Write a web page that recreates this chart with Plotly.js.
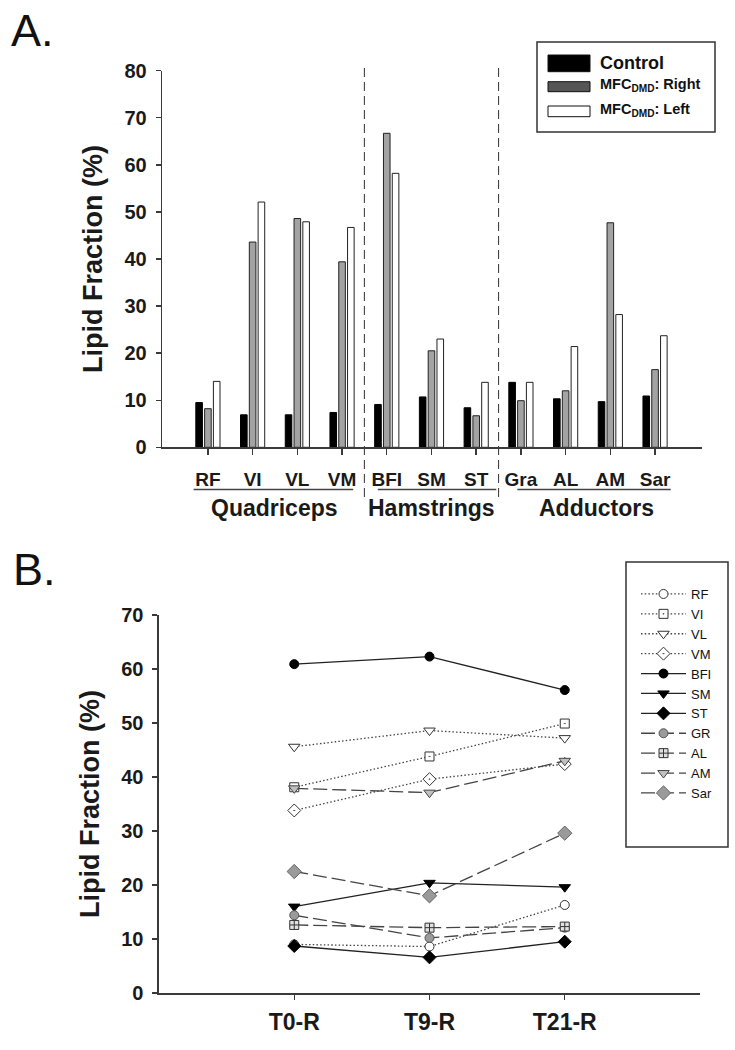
<!DOCTYPE html>
<html>
<head>
<meta charset="utf-8">
<script src="https://cdn.plot.ly/plotly-3.0.1.min.js"></script>
<style>
  html, body { margin: 0; padding: 0; background: #ffffff; }
  #chart { width: 735px; height: 1050px; }
</style>
</head>
<body>
<div id="chart"></div>
<script>
// ---------- Panel A data ----------
var categories = ['RF', 'VI', 'VL', 'VM', 'BFI', 'SM', 'ST', 'Gra', 'AL', 'AM', 'Sar'];
var controlValues = [9.5, 6.9, 6.9, 7.4, 9.1, 10.7, 8.4, 13.8, 10.3, 9.7, 10.9];
var rightValues = [8.2, 43.6, 48.6, 39.4, 66.7, 20.5, 6.7, 9.9, 12.0, 47.7, 16.5];
var leftValues = [14.0, 52.1, 47.9, 46.7, 58.2, 23.0, 13.8, 13.8, 21.4, 28.2, 23.7];
var seriesNames = ['Control', 'MFC<sub>DMD</sub>: Right', 'MFC<sub>DMD</sub>: Left'];
var groupNames = ['Quadriceps', 'Hamstrings', 'Adductors'];
var groupFirst = ['RF', 'BFI', 'Gra'];
var groupLast = ['VM', 'ST', 'Sar'];
var yTicksA = [0, 10, 20, 30, 40, 50, 60, 70, 80];

// ---------- Panel B data ----------
var timepoints = ['T0-R', 'T9-R', 'T21-R'];
var muscles = ['RF', 'VI', 'VL', 'VM', 'BFI', 'SM', 'ST', 'GR', 'AL', 'AM', 'Sar'];
var rfB = [9.0, 8.6, 16.3];
var viB = [38.1, 43.8, 49.9];
var vlB = [45.6, 48.6, 47.2];
var vmB = [33.8, 39.6, 42.4];
var bfiB = [60.9, 62.3, 56.1];
var smB = [16.0, 20.4, 19.6];
var stB = [8.7, 6.6, 9.5];
var grB = [14.4, 10.2, 12.1];
var alB = [12.6, 12.1, 12.3];
var amB = [37.9, 37.1, 43.0];
var sarB = [22.5, 18.0, 29.6];
var yTicksB = [0, 10, 20, 30, 40, 50, 60, 70];

// ---------- helpers ----------
var FONT = 'Liberation Sans, Arial, Helvetica, sans-serif';
var W = 735, H = 1050;
function px(x) { return x / W; }
function py(y) { return 1 - y / H; }
function idx(c) { return categories.indexOf(c); }

var traces = [];

// Bars (panel A)
var barStyles = [
  { fill: '#000000', line: '#000000' },
  { fill: '#a3a3a3', line: '#222222' },
  { fill: '#ffffff', line: '#222222' }
];
[controlValues, rightValues, leftValues].forEach(function (vals, i) {
  traces.push({
    type: 'bar', x: categories, y: vals, name: seriesNames[i],
    xaxis: 'x', yaxis: 'y', showlegend: false, hoverinfo: 'x+y',
    marker: { color: barStyles[i].fill, line: { color: barStyles[i].line, width: 1 } }
  });
});

// Lines (panel B)
var DOT = '1.5px,2.2px', DASH = '14px,5px';
var lineStyles = {
  RF:  { dash: DOT, lc: '#444', sym: 'circle', mc: '#ffffff', ml: '#333', size: 9 },
  VI:  { dash: DOT, lc: '#444', sym: 'square-dot', mc: '#ffffff', ml: '#333', size: 9 },
  VL:  { dash: DOT, lc: '#444', sym: 'triangle-down', mc: '#ffffff', ml: '#333', size: 10 },
  VM:  { dash: DOT, lc: '#444', sym: 'diamond-dot', mc: '#ffffff', ml: '#333', size: 10 },
  BFI: { dash: 'solid', lc: '#222', sym: 'circle', mc: '#000000', ml: '#000', size: 9 },
  SM:  { dash: 'solid', lc: '#222', sym: 'triangle-down', mc: '#000000', ml: '#000', size: 10 },
  ST:  { dash: 'solid', lc: '#222', sym: 'diamond', mc: '#000000', ml: '#000', size: 10 },
  GR:  { dash: DASH, lc: '#444', sym: 'circle', mc: '#9a9a9a', ml: '#555', size: 9 },
  AL:  { dash: DASH, lc: '#444', sym: 'square-cross', mc: '#e0e0e0', ml: '#333', size: 9 },
  AM:  { dash: DASH, lc: '#444', sym: 'triangle-down', mc: '#c0c0c0', ml: '#444', size: 10 },
  Sar: { dash: DASH, lc: '#444', sym: 'diamond', mc: '#9a9a9a', ml: '#666', size: 11 }
};
var seriesB = [rfB, viB, vlB, vmB, bfiB, smB, stB, grB, alB, amB, sarB];
seriesB.forEach(function (vals, i) {
  var s = lineStyles[muscles[i]];
  traces.push({
    type: 'scatter', mode: 'lines+markers', x: timepoints, y: vals, name: muscles[i],
    xaxis: 'x2', yaxis: 'y2',
    line: { color: s.lc, width: 1.3, dash: s.dash },
    marker: { symbol: s.sym, size: s.size, color: s.mc, line: { color: s.ml, width: 1 } }
  });
});

var axisCommon = {
  showgrid: false, zeroline: false, showline: true, linecolor: '#3a3a3a', linewidth: 1.6,
  ticks: 'outside', ticklen: 5, tickwidth: 1.4, tickcolor: '#3a3a3a',
  fixedrange: true
};

var shapes = [];
var annotations = [];

// group dividers
[3.5, 6.5].forEach(function (xv) {
  shapes.push({ type: 'line', xref: 'x', yref: 'paper', x0: xv, x1: xv, y0: py(497), y1: py(66),
    line: { color: '#444', width: 1.1, dash: '9px,5px' } });
});
// group underlines and names
var underlinePad = [[-0.32, 0.25], [-0.2, 0.45], [-0.08, 0.35]];
groupNames.forEach(function (g, i) {
  var a = idx(groupFirst[i]), b = idx(groupLast[i]);
  shapes.push({ type: 'line', xref: 'x', yref: 'paper', x0: a + underlinePad[i][0], x1: b + underlinePad[i][1],
    y0: py(489.5), y1: py(489.5), line: { color: '#444', width: 1.4 } });
  annotations.push({ xref: 'x', yref: 'paper', x: (a + b) / 2 + (i === 2 ? 0.2 : 0), y: py(508),
    xanchor: 'center', yanchor: 'middle', showarrow: false, text: g,
    font: { family: FONT, size: 23, color: '#1a1a1a', weight: 700 } });
});

// Legend A (custom)
shapes.push({ type: 'rect', xref: 'paper', yref: 'paper', x0: px(537), x1: px(715), y0: py(132), y1: py(42),
  line: { color: '#333', width: 1.5 }, fillcolor: 'rgba(0,0,0,0)' });
var swatchA = [[55, 71.7, '#000000'], [81.7, 91.7, '#555555'], [106, 116.7, '#ffffff']];
var textYA = [63.5, 85, 110];
var textSizeA = [18, 14.5, 14.5];
seriesNames.forEach(function (n, i) {
  shapes.push({ type: 'rect', xref: 'paper', yref: 'paper', x0: px(548), x1: px(590),
    y0: py(swatchA[i][1]), y1: py(swatchA[i][0]), fillcolor: swatchA[i][2], line: { color: '#111', width: 1 } });
  annotations.push({ xref: 'paper', yref: 'paper', x: px(598), y: py(textYA[i]), xanchor: 'left', yanchor: 'middle',
    showarrow: false, text: n, font: { family: FONT, size: textSizeA[i], color: '#111', weight: 700 } });
});

// Legend B frame
shapes.push({ type: 'rect', xref: 'paper', yref: 'paper', x0: px(626), x1: px(728), y0: py(847), y1: py(562),
  line: { color: '#333', width: 1.5 }, fillcolor: 'rgba(0,0,0,0)' });

// Panel letters
annotations.push({ xref: 'paper', yref: 'paper', x: px(9), y: py(31), xanchor: 'left', yanchor: 'middle',
  showarrow: false, text: 'A.', font: { family: FONT, size: 45, color: '#111' } });
annotations.push({ xref: 'paper', yref: 'paper', x: px(11), y: py(569), xanchor: 'left', yanchor: 'middle',
  showarrow: false, text: 'B.', font: { family: FONT, size: 45, color: '#111' } });

var layout = {
  width: W, height: H,
  margin: { l: 0, r: 0, t: 0, b: 0, pad: 0 },
  paper_bgcolor: '#ffffff', plot_bgcolor: '#ffffff',
  font: { family: FONT, color: '#1a1a1a' },
  barmode: 'group', bargap: 0.41, bargroupgap: 0.25,
  showlegend: true,
  xaxis: Object.assign({}, axisCommon, {
    domain: [px(162.3), px(702)], anchor: 'y', type: 'category', range: [-1.02, 11.05],
    tickfont: { family: FONT, size: 19, color: '#1a1a1a', weight: 700 }, ticklabelstandoff: 8, ticklen: 6
  }),
  yaxis: Object.assign({}, axisCommon, {
    domain: [py(447.3), py(70.7)], anchor: 'x', range: [0, 80], tickvals: yTicksA,
    tickfont: { family: FONT, size: 20, color: '#1a1a1a', weight: 700 }, ticklabelstandoff: 5,
    title: { text: 'Lipid Fraction (%)', standoff: 14, font: { family: FONT, size: 27, color: '#1a1a1a', weight: 700 } }
  }),
  xaxis2: Object.assign({}, axisCommon, {
    domain: [px(159), px(700)], anchor: 'y2', type: 'category', range: [-1, 3],
    tickfont: { family: FONT, size: 23, color: '#1a1a1a', weight: 700 }, ticklabelstandoff: 3
  }),
  yaxis2: Object.assign({}, axisCommon, {
    domain: [py(993), py(615)], anchor: 'x2', range: [0, 70], tickvals: yTicksB,
    tickfont: { family: FONT, size: 20, color: '#1a1a1a', weight: 700 }, ticklabelstandoff: 5,
    title: { text: 'Lipid Fraction (%)', standoff: 14, font: { family: FONT, size: 27, color: '#1a1a1a', weight: 700 } }
  }),
  legend: {
    x: px(636), y: py(579), xanchor: 'left', yanchor: 'top',
    bgcolor: 'rgba(0,0,0,0)', borderwidth: 0, itemwidth: 45, tracegroupgap: 0,
    font: { family: FONT, size: 13, color: '#111' }, itemclick: false, itemdoubleclick: false
  },
  shapes: shapes,
  annotations: annotations
};

Plotly.newPlot('chart', traces, layout, { displayModeBar: false, staticPlot: true });
</script>
</body>
</html>
